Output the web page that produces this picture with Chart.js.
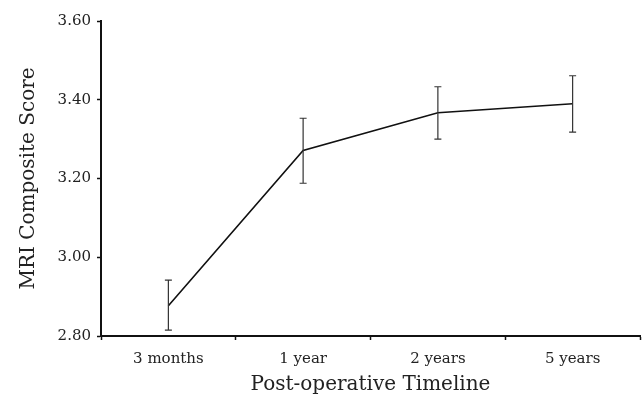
<!DOCTYPE html>
<html>
<head>
<meta charset="utf-8">
<script src="https://cdn.jsdelivr.net/npm/chart.js@4"></script>
<style>
  html, body { margin: 0; padding: 0; background: #fff; }
  #wrap { width: 642px; height: 397px; }
</style>
</head>
<body>
<div id="wrap"><canvas id="chart"></canvas></div>
<script>
// chart data
var timepoints = ['3 months', '1 year', '2 years', '5 years'];
var meanScore = [2.877, 3.271, 3.367, 3.390];
var errLow = [2.815, 3.188, 3.300, 3.318];
var errHigh = [2.942, 3.353, 3.433, 3.461];
var yTicks = [2.8, 3.0, 3.2, 3.4, 3.6];

var serif = '"DejaVu Serif", serif';

// draws the error bars from the y scale
var errorBars = {
    id: 'errorBars',
    afterDatasetsDraw: function(chart) {
        var ctx = chart.ctx;
        var y = chart.scales.y;
        var meta = chart.getDatasetMeta(0);
        ctx.save();
        ctx.strokeStyle = '#333';
        ctx.lineWidth = 1.2;
        meta.data.forEach(function(pt, i) {
            var top = y.getPixelForValue(errHigh[i]);
            var bot = y.getPixelForValue(errLow[i]);
            ctx.beginPath();
            ctx.moveTo(pt.x, top);
            ctx.lineTo(pt.x, bot);
            ctx.moveTo(pt.x - 3.5, top);
            ctx.lineTo(pt.x + 3.5, top);
            ctx.moveTo(pt.x - 3.5, bot);
            ctx.lineTo(pt.x + 3.5, bot);
            ctx.stroke();
        });
        ctx.restore();
    }
};

new Chart(document.getElementById('chart'), {
    type: 'line',
    data: {
        labels: timepoints,
        datasets: [{
            data: meanScore,
            borderColor: '#111',
            borderWidth: 1.6,
            pointRadius: 0,
            tension: 0,
            fill: false
        }]
    },
    options: {
        responsive: true,
        maintainAspectRatio: false,
        animation: false,
        layout: { padding: { top: 21, right: 2, left: 0, bottom: 0 } },
        plugins: {
            legend: { display: false },
            tooltip: { enabled: false }
        },
        scales: {
            x: {
                offset: true,
                grid: {
                    offset: true,
                    drawOnChartArea: false,
                    drawTicks: true,
                    tickLength: 4,
                    tickColor: '#111',
                    tickWidth: 1.5
                },
                border: { color: '#111', width: 2 },
                ticks: {
                    color: '#222',
                    font: { family: serif, size: 15 },
                    padding: 10,
                    maxRotation: 0
                },
                title: {
                    display: true,
                    text: 'Post-operative Timeline',
                    color: '#222',
                    font: { family: serif, size: 20 },
                    padding: { top: 0, bottom: 0 }
                },
                afterFit: function(scale) { scale.height = 61; }
            },
            y: {
                min: 2.8,
                max: 3.6,
                afterBuildTicks: function(scale) {
                    scale.ticks = yTicks.map(function(v) { return { value: v }; });
                },
                grid: {
                    drawOnChartArea: false,
                    drawTicks: true,
                    tickLength: 4,
                    tickColor: '#111',
                    tickWidth: 1.5
                },
                border: { color: '#111', width: 2 },
                ticks: {
                    color: '#222',
                    font: { family: serif, size: 15 },
                    padding: 6,
                    callback: function(v) { return Number(v).toFixed(2); }
                },
                title: {
                    display: true,
                    text: 'MRI Composite Score',
                    color: '#222',
                    font: { family: serif, size: 20 },
                    padding: { top: 17, bottom: 0 }
                },
                afterFit: function(scale) { scale.width = 101; }
            }
        }
    },
    plugins: [errorBars]
});
</script>
</body>
</html>
